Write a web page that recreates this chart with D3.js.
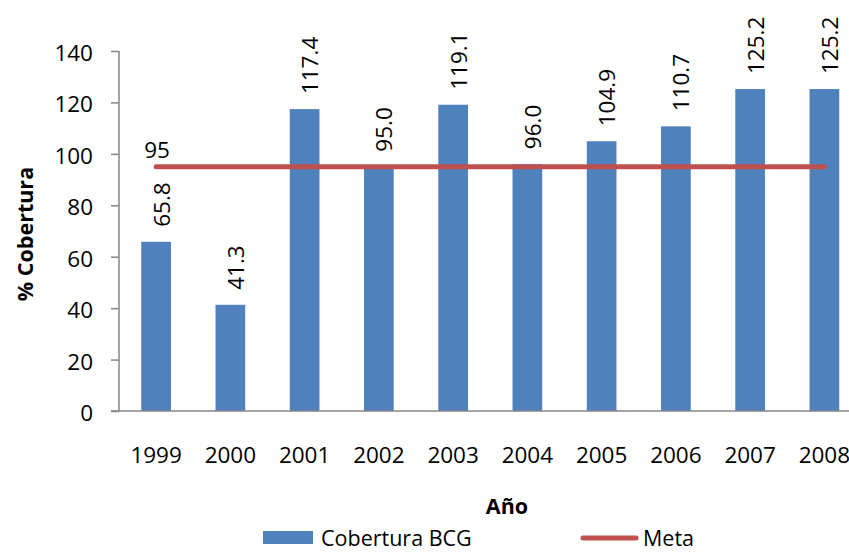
<!DOCTYPE html>
<html>
<head>
<meta charset="utf-8">
<script src="https://cdn.jsdelivr.net/npm/d3@7"></script>
<style>
  html, body { margin: 0; padding: 0; background: #fff; overflow: hidden; }
  svg { display: block; font-family: "Open Sans", "Noto Sans", sans-serif; }
</style>
</head>
<body>
<svg id="chart" width="849" height="552"></svg>
<script>
// Coverage data
const years = ["1999", "2000", "2001", "2002", "2003", "2004", "2005", "2006", "2007", "2008"];
const coverage = [65.8, 41.3, 117.4, 95.0, 119.1, 96.0, 104.9, 110.7, 125.2, 125.2];
const target = [95, 95, 95, 95, 95, 95, 95, 95, 95, 95];
const yTicks = [0, 20, 40, 60, 80, 100, 120, 140];
const seriesNames = ["Cobertura BCG", "Meta"];

const barColor = "#4F81BD";
const lineColor = "#C0504D";
const axisColor = "#868686";
const fontSize = 22.5;

const svg = d3.select("#chart");

const x = d3.scaleBand()
  .domain(years)
  .range([119, 861.5])
  .paddingInner(0.6)
  .paddingOuter(0.3);

const y = d3.scaleLinear().domain([0, 140]).range([411, 51]);

// Y axis
const yAxis = svg.append("g")
  .attr("transform", "translate(119,0)")
  .call(d3.axisLeft(y).tickValues(yTicks).tickSize(8).tickPadding(18).tickFormat(d3.format("d")));
yAxis.selectAll("path, line").attr("stroke", axisColor).attr("stroke-width", 1.5);
yAxis.select(".domain").attr("d", `M0,${y(140)}V${y(0)}`);
yAxis.selectAll("text")
  .attr("font-size", fontSize)
  .attr("fill", "#000")
  .attr("dy", "0.42em")
  .style("font-family", "'Open Sans', sans-serif");

// Bars
svg.append("g").selectAll("rect")
  .data(years.map((yr, i) => ({ yr, v: coverage[i] })))
  .join("rect")
  .attr("x", d => x(d.yr))
  .attr("y", d => y(d.v))
  .attr("width", x.bandwidth())
  .attr("height", d => y(0) - y(d.v))
  .attr("fill", barColor);

// X axis
const xAxis = svg.append("g")
  .attr("transform", `translate(0,${y(0)})`)
  .call(d3.axisBottom(x).tickSize(0).tickPadding(36));
xAxis.select(".domain").attr("d", "M111,0H849").attr("stroke", axisColor).attr("stroke-width", 1.5);
xAxis.selectAll("text")
  .attr("font-size", fontSize)
  .attr("fill", "#000")
  .style("font-family", "'Open Sans', sans-serif");

// Bar value labels (rotated)
svg.append("g").selectAll("text")
  .data(years.map((yr, i) => ({ yr, v: coverage[i] })))
  .join("text")
  .attr("transform", d => `translate(${x(d.yr) + x.bandwidth() / 2 + 5},${y(d.v) - 15}) rotate(-90)`)
  .attr("text-anchor", "start")
  .attr("dominant-baseline", "central")
  .attr("font-size", fontSize)
  .text(d => d3.format(".1f")(d.v));

// Target line
const line = d3.line()
  .x((d, i) => x(years[i]) + x.bandwidth() / 2)
  .y(d => y(d));
svg.append("path")
  .datum(target)
  .attr("d", line)
  .attr("fill", "none")
  .attr("stroke", lineColor)
  .attr("stroke-width", 5)
  .attr("stroke-linecap", "round");

// Target label at first point
svg.append("text")
  .attr("x", x(years[0]) + x.bandwidth() / 2 + 1)
  .attr("y", y(target[0]) - 9)
  .attr("text-anchor", "middle")
  .attr("font-size", fontSize)
  .text(target[0]);

// Axis titles
svg.append("text")
  .attr("transform", "translate(33,234) rotate(-90)")
  .attr("text-anchor", "middle")
  .attr("font-size", 21.5)
  .attr("font-weight", "bold")
  .text("% Cobertura");

svg.append("text")
  .attr("x", 507)
  .attr("y", 514)
  .attr("text-anchor", "middle")
  .attr("font-size", 21.5)
  .attr("font-weight", "bold")
  .text("Año");

// Legend
const legend = svg.append("g");
legend.append("rect")
  .attr("x", 263).attr("y", 531).attr("width", 50).attr("height", 13)
  .attr("fill", barColor);
legend.append("text")
  .attr("x", 321).attr("y", 546)
  .attr("font-size", 21.5)
  .text(seriesNames[0]);
legend.append("line")
  .attr("x1", 583).attr("x2", 636).attr("y1", 538).attr("y2", 538)
  .attr("stroke", lineColor).attr("stroke-width", 5).attr("stroke-linecap", "round");
legend.append("text")
  .attr("x", 643).attr("y", 546)
  .attr("font-size", 21.5)
  .text(seriesNames[1]);
</script>
</body>
</html>
